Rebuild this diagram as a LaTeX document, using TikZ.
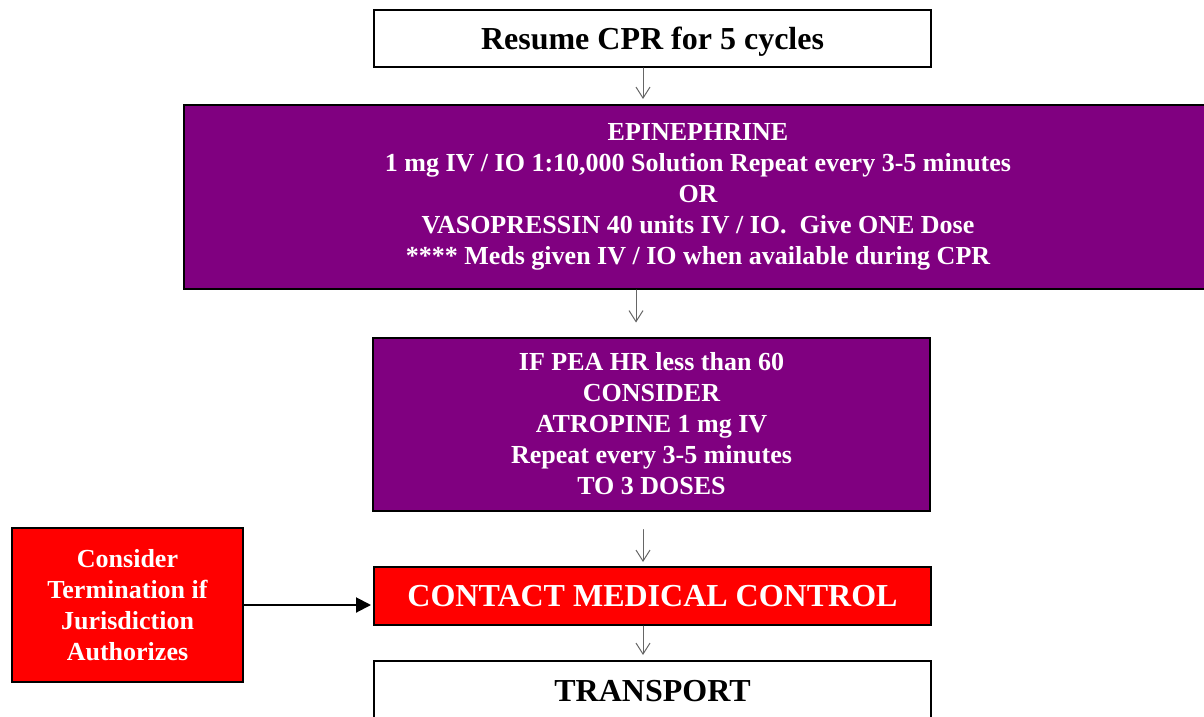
\documentclass[tikz,border=0pt]{standalone}
\usepackage{fontspec}
\setmainfont{Liberation Serif}
\usetikzlibrary{arrows.meta}
\definecolor{medpurple}{HTML}{800080}
\definecolor{medred}{HTML}{FF0000}

\def\ax{643}
\def\bx{636}

\begin{document}
\begin{tikzpicture}[x=0.5pt, y=-0.5pt,
                    line cap=round,
                    box/.style={draw=black, line width=1pt, align=center,
                                font=\bfseries\fontsize{13}{15.5}\selectfont,
                                inner sep=0pt},
                    plainbox/.style={box, fill=white, text=black,
                                minimum width=278.5pt},
                    purplebox/.style={box, fill=medpurple, text=white},
                    redbox/.style={box, fill=medred, text=white},
                    flow/.style={draw=gray!80!black, line width=0.5pt,
                                -{Straight Barb[length=5.5pt,width=7pt]}},
                    link/.style={draw=black, line width=1pt,
                                -{Triangle[length=7.5pt,width=7.5pt]}}
                   ]
\useasboundingbox (0,0) rectangle (1204,717);

\node [plainbox, minimum height=28.5pt, text depth=0pt,
       font=\bfseries\fontsize{16}{19}\selectfont]
      (resume) at (652.5,38.5) {Resume CPR for 5 cycles};
\node [purplebox, minimum width=514pt, minimum height=92pt]
      (epi) at (698,197) {EPINEPHRINE\\
      1 mg IV / IO 1:10,000 Solution Repeat every 3-5 minutes\\
      OR\\
      VASOPRESSIN 40 units IV / IO.~ Give ONE Dose\\
      **** Meds given IV / IO when available during CPR};
\node [purplebox, minimum width=278.5pt, minimum height=86.5pt]
      (atro) at (651.5,424) {IF PEA HR less than 60\\
      CONSIDER\\
      ATROPINE 1 mg IV\\
      Repeat every 3-5 minutes\\
      TO 3 DOSES};
\node [redbox, minimum width=278.5pt, minimum height=29pt,
       font=\bfseries\fontsize{16}{19}\selectfont]
      (contact) at (652.5,596) {CONTACT MEDICAL CONTROL};
\node [plainbox, minimum height=30.5pt, font=\bfseries\fontsize{16}{19}\selectfont]
      (transport) at (652.5,691.5) {TRANSPORT};
\node [redbox, minimum width=115.5pt, minimum height=77pt]
      (term) at (127.5,605) {Consider\\ Termination if\\ Jurisdiction\\ Authorizes};

%arrows
\coordinate (ax) at (\ax,0);
\coordinate (bx) at (\bx,0);
\draw [flow, shorten >=2.5pt] (resume.south -| ax) -- (epi.north -| ax);
\draw [flow, shorten >=7pt] (epi.south -| bx) -- (atro.north -| bx);
\draw [flow, shorten <=9pt, shorten >=2pt] (atro.south -| ax) -- (contact.north -| ax);
\draw [flow, shorten >=2.5pt] (contact.south -| ax) -- (transport.north -| ax);
\draw [link, shorten >=1pt] (term.east) -- (term.east -| contact.west);
\end{tikzpicture}
\end{document}
